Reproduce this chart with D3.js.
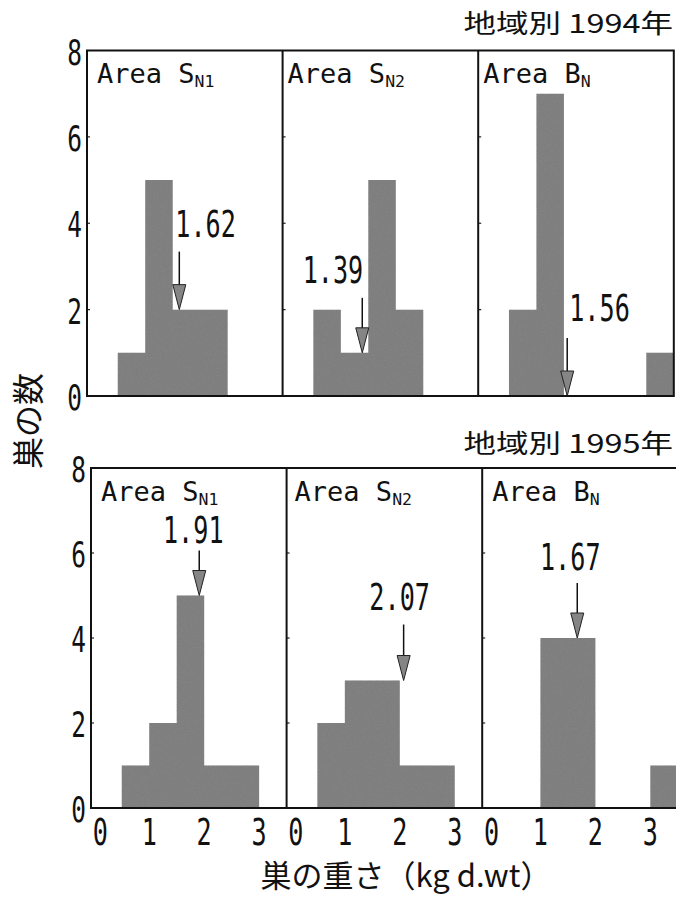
<!DOCTYPE html>
<html>
<head>
<meta charset="utf-8">
<script src="https://cdn.jsdelivr.net/npm/d3@7"></script>
<style>
  html, body { margin: 0; padding: 0; background: #fff; }
  svg { display: block; }
</style>
</head>
<body>
<svg id="chart" width="676" height="897"></svg>
<script>
// Nest weight histograms (0.5 kg d.wt bins), three areas, two survey years
const binEdges = [0, 0.5, 1.0, 1.5, 2.0, 2.5, 3.0, 3.5];
const areaBase = ["S", "S", "B"];
const areaSub = ["N1", "N2", "N"];
const years = ["1994", "1995"];
const counts1994 = [
  [0, 1, 5, 2, 2, 0, 0],   // Area SN1
  [0, 2, 1, 5, 2, 0, 0],   // Area SN2
  [0, 2, 7, 0, 0, 0, 1]    // Area BN
];
const counts1995 = [
  [0, 1, 2, 5, 1, 1, 0],
  [0, 2, 3, 3, 1, 1, 0],
  [0, 0, 4, 4, 0, 0, 1]
];
const means1994 = [1.62, 1.39, 1.56];
const means1995 = [1.91, 2.07, 1.67];
// count level at which each mean arrow ends
const arrowLevel1994 = [2, 1, 0];
const arrowLevel1995 = [5, 3, 4];
const yTicks = [0, 2, 4, 6, 8];
const yMinorTicks = [2, 4, 6];
const xTicks = [0, 1, 2, 3];
const yTitle = "巣の数";
const xTitle = "巣の重さ（kg d.wt）";
const rowTitlePrefix = "地域別 ";
const rowTitleSuffix = "年";

// ---- layout ----
const rows = [
  { counts: counts1994, means: means1994, level: arrowLevel1994, year: years[0],
    left: 87, top: 50.5, bottom: 396, titleY: 33, showX: false,
    areaDx: [10, 5, 5], labelAnchor: ["start", "end", "start"],
    labelDx: [-4, 1, 2], labelGap: [15, 15, 17], shaft: [58, 55, 58] },
  { counts: counts1995, means: means1995, level: arrowLevel1995, year: years[1],
    left: 91, top: 468, bottom: 808, titleY: 453, showX: true,
    areaDx: [10, 8, 10], labelAnchor: ["middle", "middle", "middle"],
    labelDx: [-6, -4, -7], labelGap: [8, 15, 13], shaft: [45, 56, 55] }
];
const panelW = 195.6;
const xDomain = [-0.06, 3.5];
const barFill = "#7e7e7e";
const monoFont = "'DejaVu Sans Mono', 'Liberation Mono', monospace";
const cjkFont = "'Noto Sans CJK JP', 'Noto Sans CJK SC', sans-serif";
const narrow = 0.68;
const headLen = 25, headHalf = 6.5;

const svg = d3.select("#chart");

// fine speckle for the bar fill
const defs = svg.append("defs");
const f = defs.append("filter").attr("id", "grain")
  .attr("x", 0).attr("y", 0).attr("width", 1).attr("height", 1);
f.append("feTurbulence").attr("type", "fractalNoise").attr("baseFrequency", 1.3)
  .attr("numOctaves", 1).attr("seed", 5).attr("result", "noise");
f.append("feColorMatrix").attr("in", "noise").attr("type", "matrix")
  .attr("values", "0 0 0 0 0.25  0 0 0 0 0.25  0 0 0 0 0.25  0 0 0 1.4 -0.55")
  .attr("result", "dots");
f.append("feComposite").attr("in", "dots").attr("in2", "SourceGraphic")
  .attr("operator", "in").attr("result", "clipped");
f.append("feMerge").call(m => {
  m.append("feMergeNode").attr("in", "SourceGraphic");
  m.append("feMergeNode").attr("in", "clipped");
});

function narrowText(g, x, y, str, size, anchor) {
  g.append("text")
    .attr("transform", `translate(${x},${y}) scale(${narrow},1)`)
    .attr("text-anchor", anchor)
    .attr("font-family", monoFont)
    .attr("font-size", size)
    .attr("fill", "#111")
    .text(str);
}

rows.forEach(row => {
  const g = svg.append("g");
  const y = d3.scaleLinear().domain([0, 8]).range([row.bottom, row.top]);

  // row title
  g.append("text")
    .attr("transform", `translate(673,${row.titleY}) scale(1.25,1)`)
    .attr("text-anchor", "end")
    .attr("font-family", cjkFont)
    .attr("font-size", 26)
    .attr("fill", "#111")
    .text(rowTitlePrefix + row.year + rowTitleSuffix);

  // y tick labels on the leftmost panel
  yTicks.forEach(t => narrowText(g, row.left - 5, y(t) + 14, String(t), 36, "end"));

  row.counts.forEach((counts, p) => {
    const x0 = row.left + p * panelW;
    const x = d3.scaleLinear().domain(xDomain).range([x0, x0 + panelW]);
    const bins = counts.map((c, i) => ({ x0: binEdges[i], x1: binEdges[i + 1], c }))
      .filter(b => b.c > 0);

    // all bins of a panel as one path so neighbouring bars join seamlessly
    const path = d3.path();
    bins.forEach(b => {
      const xa = x(b.x0), xb = x(Math.min(b.x1, xDomain[1]));
      path.rect(xa, y(b.c), xb - xa, y(0) - y(b.c));
    });
    g.append("path")
      .attr("d", path.toString())
      .attr("fill", barFill)
      .attr("filter", "url(#grain)");

    // inner tick marks on the panel's left edge
    g.selectAll(null).data(yMinorTicks).join("line")
      .attr("x1", x0).attr("x2", x0 + 3)
      .attr("y1", d => y(d)).attr("y2", d => y(d))
      .attr("stroke", "#222").attr("stroke-width", 1.2);

    // area label with subscript
    const lab = g.append("text")
      .attr("x", x0 + row.areaDx[p]).attr("y", row.top + 32.5)
      .attr("font-family", monoFont).attr("font-size", 27).attr("fill", "#111");
    lab.append("tspan").text("Area " + areaBase[p]);
    lab.append("tspan").attr("font-size", 16.5).attr("dy", 4).text(areaSub[p]);

    // mean arrow
    const m = row.means[p];
    const mx = x(m);
    const tipY = y(row.level[p]);
    const shaft = row.shaft[p];
    g.append("line")
      .attr("x1", mx).attr("x2", mx)
      .attr("y1", tipY - shaft).attr("y2", tipY - headLen + 1)
      .attr("stroke", "#111").attr("stroke-width", 1.5);
    g.append("path")
      .attr("d", `M${mx},${tipY} L${mx - headHalf},${tipY - headLen} L${mx + headHalf},${tipY - headLen} Z`)
      .attr("fill", "#858585").attr("stroke", "#222").attr("stroke-width", 1);
    narrowText(g, mx + row.labelDx[p], tipY - shaft - row.labelGap[p],
      m.toFixed(2), 37, row.labelAnchor[p]);

    // x tick labels on the lower row
    if (row.showX) {
      xTicks.forEach(t => narrowText(g, x(t) + (t === 0 ? 6 : 0), 845, String(t), 37, "middle"));
    }

    // panel divider
    if (p > 0) {
      g.append("line").attr("x1", x0).attr("x2", x0)
        .attr("y1", row.top).attr("y2", row.bottom)
        .attr("stroke", "#111").attr("stroke-width", 2);
    }
  });

  // panel frame
  g.append("rect")
    .attr("x", row.left).attr("y", row.top)
    .attr("width", panelW * 3).attr("height", row.bottom - row.top)
    .attr("fill", "none").attr("stroke", "#111").attr("stroke-width", 2);
});

// axis titles
svg.append("text")
  .attr("transform", "translate(40,421) rotate(-90)")
  .attr("text-anchor", "middle")
  .attr("font-family", cjkFont).attr("font-size", 32).attr("fill", "#111")
  .text(yTitle);

svg.append("text")
  .attr("x", 406).attr("y", 887)
  .attr("text-anchor", "middle")
  .attr("font-family", cjkFont).attr("font-size", 31).attr("fill", "#111")
  .text(xTitle);
</script>
</body>
</html>
